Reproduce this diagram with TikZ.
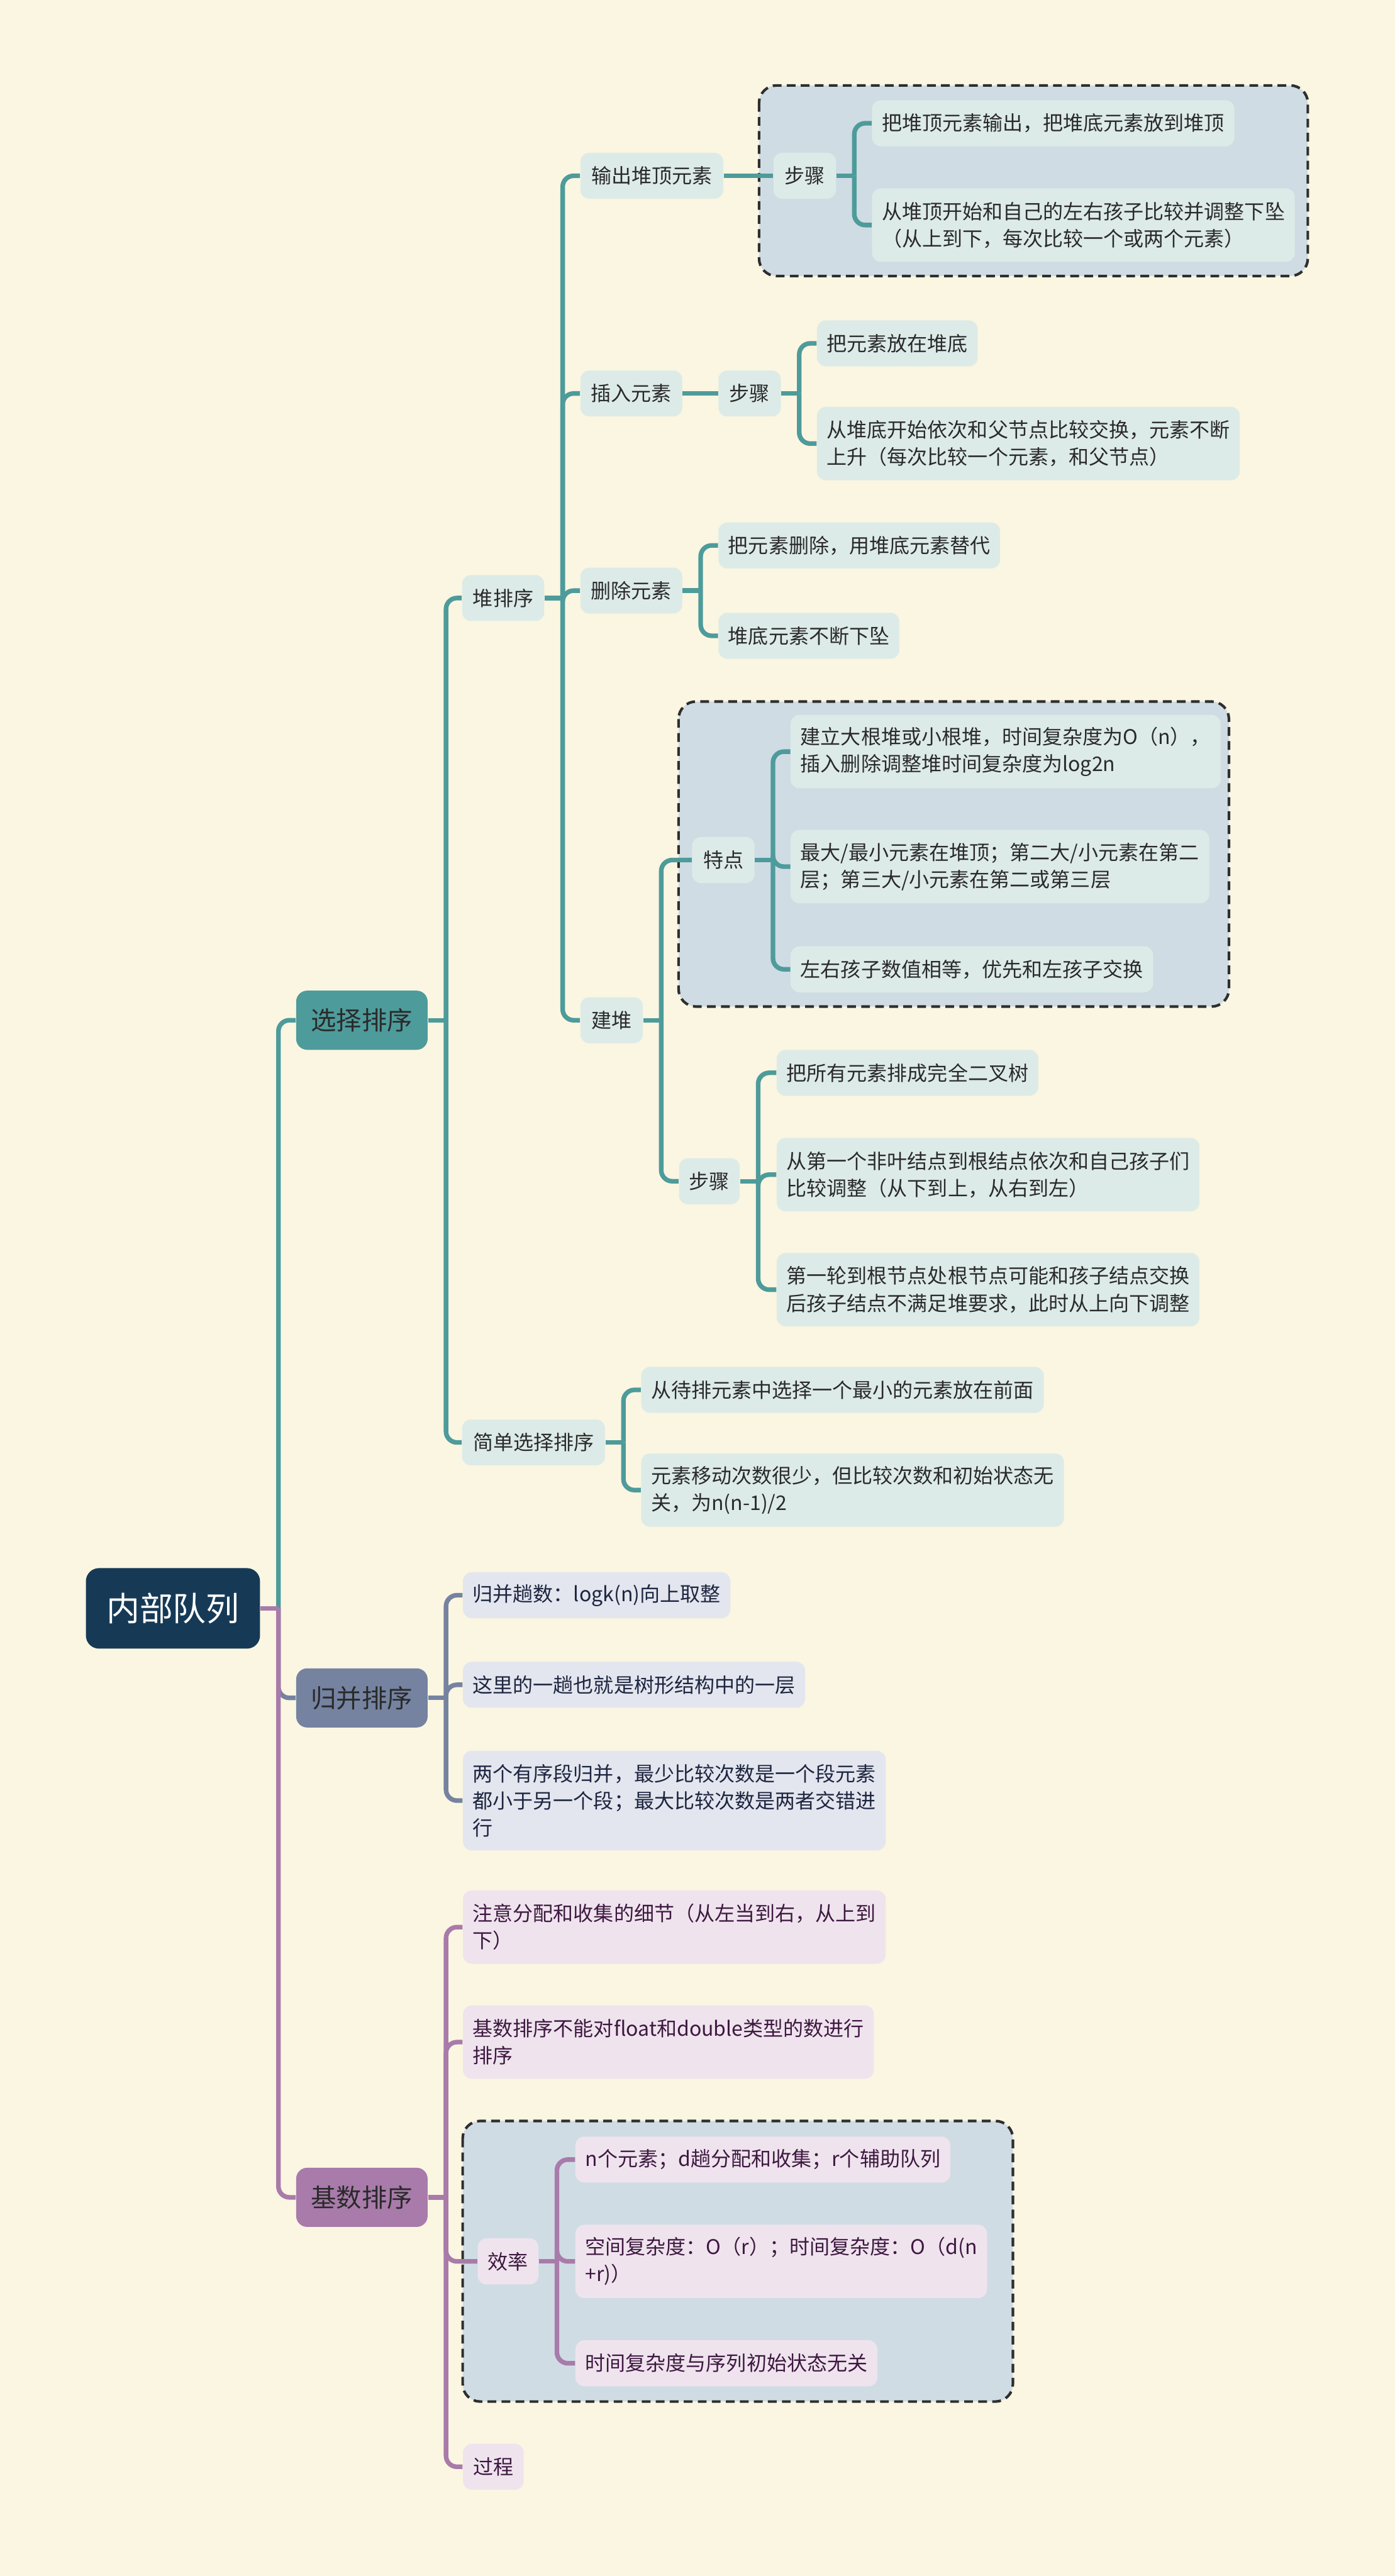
\documentclass[tikz,border=0pt]{standalone}
\usepackage{fontspec}
\newfontfamily\cjk{Noto Sans CJK SC}
\definecolor{bg}{HTML}{FBF6E1}
\definecolor{teal1}{HTML}{4E9B9B}
\definecolor{slate1}{HTML}{7583A1}
\definecolor{purp1}{HTML}{A87BAA}
\definecolor{rootc}{HTML}{163A56}
\definecolor{tleafc}{HTML}{DDEBE8}
\definecolor{sleafc}{HTML}{E3E6EE}
\definecolor{pleafc}{HTML}{EFE4EE}
\definecolor{grpc}{HTML}{CFDCE4}
\definecolor{ttext}{HTML}{2A2A2A}
\definecolor{stext}{HTML}{1E2540}
\definecolor{ptext}{HTML}{3E1840}
\pgfdeclarelayer{back}
\pgfsetlayers{back,main}
\newcommand\brc[3]{\draw[#1] (#2.east) -- ([xshift=8.2pt]#2.east);
  \draw[#1,rounded corners=5pt] ([xshift=8.2pt]#2.east) |- (#3.west);}
\newcommand\brs[3]{\draw[#1] (#2.east) -- (#3.west);}
\begin{document}
\begin{tikzpicture}[x=0.75pt,y=-0.75pt,
  box/.style={rounded corners=4pt, inner xsep=4.5pt, inner ysep=5pt,
    font=\cjk\fontsize{9.2pt}{12.4pt}\selectfont, align=left, anchor=west,
    minimum height=21pt},
  tleaf/.style={box, fill=tleafc, text=ttext},
  sleaf/.style={box, fill=sleafc, text=stext},
  pleaf/.style={box, fill=pleafc, text=ptext},
  hh/.style={minimum height=33.5pt},
  hhh/.style={minimum height=45.5pt},
  mid/.style={align=center, minimum width=#1},
  lvl/.style={rounded corners=5pt, font=\cjk\fontsize{11.6pt}{14pt}\selectfont,
    minimum width=60pt, minimum height=27pt, anchor=west, align=center, text=ttext},
  rootbox/.style={rounded corners=6pt, fill=rootc, text=white,
    font=\cjk\fontsize{15.2pt}{18pt}\selectfont, minimum width=79.5pt,
    minimum height=36.75pt, anchor=west},
  grp/.style={draw=black!82, fill=grpc, line width=1.2pt, dash pattern=on 4pt off 2.4pt,
    rounded corners=8pt},
  tl/.style={draw=teal1, line width=2.1pt},
  sl/.style={draw=slate1, line width=2.1pt},
  pl/.style={draw=purp1, line width=2.1pt}]

% nodes
\node[rootbox] (root) at (52,979) {内部队列};
\node[lvl, fill=teal1] (sel) at (180,621) {选择排序};
\node[lvl, fill=slate1] (mer) at (180,1033.5) {归并排序};
\node[lvl, fill=purp1] (rad) at (180,1337.5) {基数排序};

\node[tleaf, mid=37.5pt] (heap) at (281,364) {堆排序};
\node[tleaf, mid=65.25pt] (simp) at (281,878) {简单选择排序};
\node[tleaf, mid=65.25pt] (out) at (353,107) {输出堆顶元素};
\node[tleaf, mid=46.5pt] (ins) at (353,239.5) {插入元素};
\node[tleaf, mid=46.5pt] (del) at (353,359.5) {删除元素};
\node[tleaf, mid=28.5pt] (build) at (353,621) {建堆};
\node[tleaf, mid=28.5pt] (outS) at (470.5,107) {步骤};
\node[tleaf, mid=28.5pt] (insS) at (437,239.5) {步骤};
\node[tleaf, mid=28.5pt] (feat) at (421,523.5) {特点};
\node[tleaf, mid=27.75pt] (bS) at (413,719) {步骤};

\node[tleaf] (o1) at (530.5,75) {把堆顶元素输出，把堆底元素放到堆顶};
\node[tleaf, hh] (o2) at (530.5,137) {从堆顶开始和自己的左右孩子比较并调整下坠\\（从上到下，每次比较一个或两个元素）};
\node[tleaf] (i1) at (497,209) {把元素放在堆底};
\node[tleaf, hh] (i2) at (497,270) {从堆底开始依次和父节点比较交换，元素不断\\上升（每次比较一个元素，和父节点）};
\node[tleaf] (d1) at (437,332) {把元素删除，用堆底元素替代};
\node[tleaf] (d2) at (437,387) {堆底元素不断下坠};
\node[tleaf, hh] (f1) at (481,457.5) {建立大根堆或小根堆，时间复杂度为O（n），\\插入删除调整堆时间复杂度为log2n};
\node[tleaf, hh] (f2) at (481,527.5) {最大/最小元素在堆顶；第二大/小元素在第二\\层；第三大/小元素在第二或第三层};
\node[tleaf] (f3) at (481,590) {左右孩子数值相等，优先和左孩子交换};
\node[tleaf] (b1) at (472.5,653) {把所有元素排成完全二叉树};
\node[tleaf, hh] (b2) at (472.5,715) {从第一个非叶结点到根结点依次和自己孩子们\\比较调整（从下到上，从右到左）};
\node[tleaf, hh] (b3) at (472.5,785) {第一轮到根节点处根节点可能和孩子结点交换\\后孩子结点不满足堆要求，此时从上向下调整};
\node[tleaf] (s1) at (390,846) {从待排元素中选择一个最小的元素放在前面};
\node[tleaf, hh] (s2) at (390,907) {元素移动次数很少，但比较次数和初始状态无\\关，为n(n-1)/2};

\node[sleaf] (m1) at (281.5,971) {归并趟数：logk(n)向上取整};
\node[sleaf] (m2) at (281.5,1025.5) {这里的一趟也就是树形结构中的一层};
\node[sleaf, hhh] (m3) at (281.5,1096) {两个有序段归并，最少比较次数是一个段元素\\都小于另一个段；最大比较次数是两者交错进\\行};

\node[pleaf, hh] (r1) at (281.5,1173) {注意分配和收集的细节（从左当到右，从上到\\下）};
\node[pleaf, hh] (r2) at (281.5,1243) {基数排序不能对float和double类型的数进行\\排序};
\node[pleaf, mid=27.75pt] (eff) at (290.5,1376.5) {效率};
\node[pleaf, mid=27.75pt] (proc) at (281.5,1501.5) {过程};
\node[pleaf] (e1) at (350,1314.5) {n个元素；d趟分配和收集；r个辅助队列};
\node[pleaf, hh] (e2) at (350,1376.5) {空间复杂度：O（r）；时间复杂度：O（d(n\\+r)）};
\node[pleaf] (e3) at (350,1438.5) {时间复杂度与序列初始状态无关};

\begin{pgfonlayer}{back}
\fill[bg] (0,0) rectangle (849,1568);
\path[grp] (462,52) rectangle (796,168);
\path[grp] (413,427) rectangle (748,612.7);
\path[grp] (281.6,1291) rectangle (616.5,1461.8);
% teal
\brc{tl}{root}{sel}
\brc{tl}{sel}{heap} \brc{tl}{sel}{simp}
\brc{tl}{heap}{out} \brc{tl}{heap}{ins} \brc{tl}{heap}{del} \brc{tl}{heap}{build}
\brs{tl}{out}{outS} \brc{tl}{outS}{o1} \brc{tl}{outS}{o2}
\brs{tl}{ins}{insS} \brc{tl}{insS}{i1} \brc{tl}{insS}{i2}
\brc{tl}{del}{d1} \brc{tl}{del}{d2}
\brc{tl}{build}{feat} \brc{tl}{build}{bS}
\brc{tl}{feat}{f1} \brc{tl}{feat}{f2} \brc{tl}{feat}{f3}
\brc{tl}{bS}{b1} \brc{tl}{bS}{b2} \brc{tl}{bS}{b3}
\brc{tl}{simp}{s1} \brc{tl}{simp}{s2}
% slate
\brc{sl}{root}{mer}
\brc{sl}{mer}{m1} \brc{sl}{mer}{m2} \brc{sl}{mer}{m3}
% purple
\brc{pl}{root}{rad}
\brc{pl}{rad}{r1} \brc{pl}{rad}{r2} \brc{pl}{rad}{eff} \brc{pl}{rad}{proc}
\brc{pl}{eff}{e1} \brc{pl}{eff}{e2} \brc{pl}{eff}{e3}
\end{pgfonlayer}
\useasboundingbox (0,0) rectangle (849,1568);
\end{tikzpicture}
\end{document}
